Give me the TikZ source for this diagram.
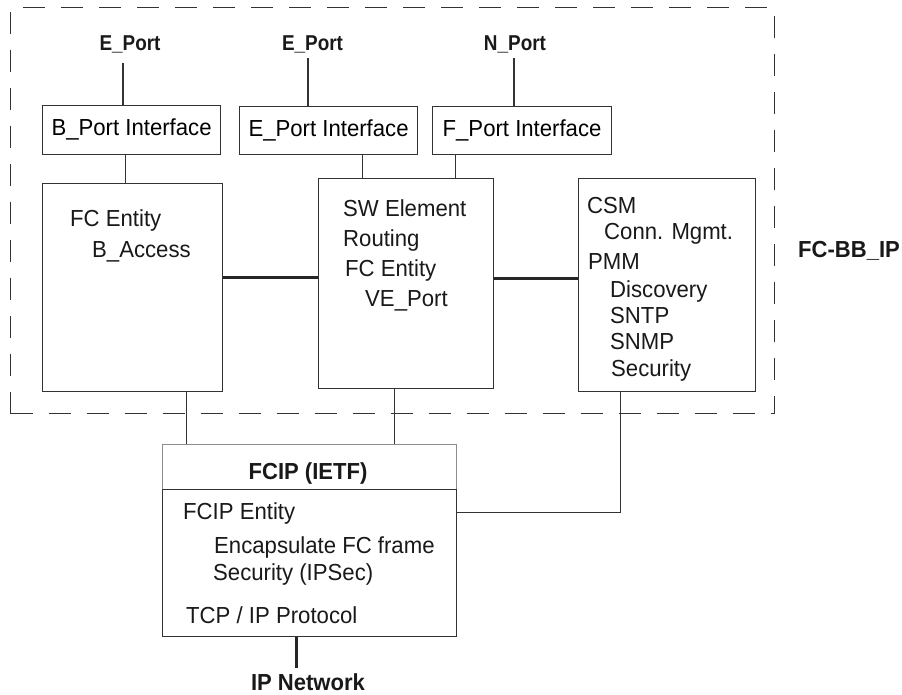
\documentclass[tikz,border=0pt]{standalone}
\usepackage{fontspec}
\setmainfont{Liberation Sans}
\newfontfamily\regfam[FakeStretch=0.955]{Liberation Sans}
\newfontfamily\portfam[FakeStretch=0.88]{Liberation Sans}
\newfontfamily\bigfam[FakeStretch=0.95]{Liberation Sans}
\begin{document}
\begin{tikzpicture}[x=1pt,y=-1pt,
  box/.style={draw=black!80,line width=1.1pt,inner sep=0pt,anchor=north west},
  pbox/.style={box,font=\regfam\fontsize{23.2}{27}\selectfont,text height=17pt,text depth=6pt},
  txt/.style={inner sep=0pt,anchor=base west,font=\regfam\fontsize{23.2}{27}\selectfont,text=black!90},
  lbl/.style={inner sep=0pt,anchor=base,font=\portfam\fontsize{21.5}{25}\selectfont\bfseries,text=black!90},
  big/.style={inner sep=0pt,font=\bigfam\fontsize{23.2}{27}\selectfont\bfseries,text=black!90},
  conn/.style={draw=black!80,line width=1.1pt},
  thickconn/.style={draw=black!85,line width=2.6pt}]
\useasboundingbox (0,0) rectangle (902,695);
\fill[white] (0,0) rectangle (902,695);

% dashed outer boundary
\node[box,minimum width=764pt,minimum height=406pt,dash pattern=on 22pt off 16pt] (fcbb) at (10,7) {};
\node[big,anchor=base west] (fcbblbl) at (798,258) {FC-BB\_IP};

% port labels
\node[lbl] (ep1) at (130,50.7) {E\_Port};
\node[lbl] (ep2) at (312.5,50.7) {E\_Port};
\node[lbl] (np) at (515,50.7) {N\_Port};
\coordinate (ep1b) at (123,63);
\coordinate (ep2b) at (308,58);
\coordinate (npb) at (514,58);

% interface boxes
\node[pbox,minimum width=178pt,minimum height=49pt] (bpi) at (42,105) {B\_Port Interface};
\node[pbox,minimum width=178pt,minimum height=48pt] (epi) at (239,106) {E\_Port Interface};
\node[pbox,minimum width=179pt,minimum height=48pt] (fpi) at (432,106) {F\_Port Interface};

% main boxes
\node[box,minimum width=180pt,minimum height=208pt] (fce) at (42,183) {};
\node[box,minimum width=175pt,minimum height=210pt] (sw) at (318,178) {};
\node[box,minimum width=177pt,minimum height=213pt] (csm) at (578,178) {};

\node[txt] (t1) at (70,226.5) {FC Entity};
\node[txt] (t2) at (92,258) {B\_Access};

\node[txt] (s1) at (343,217) {SW Element};
\node[txt] (s2) at (343,246.5) {Routing};
\node[txt] (s3) at (345,276) {FC Entity};
\node[txt] (s4) at (365,306) {VE\_Port};

\node[txt] (c1) at (587,214) {CSM};
\node[txt] (c2) at (604,240) {Conn. Mgmt.};
\node[txt] (c3) at (588,269) {PMM};
\node[txt] (c4) at (610,297) {Discovery};
\node[txt] (c5) at (610,323) {SNTP};
\node[txt] (c6) at (610,349) {SNMP};
\node[txt] (c7) at (611,376) {Security};

% FCIP box
\node[box,draw=black!45,minimum width=294pt,minimum height=45pt] (fciphead) at (162,444) {};
\node[box,minimum width=294pt,minimum height=147pt] (fcipbody) at (162,489) {};
\node[big,anchor=base] (fciplbl) at (308,479) {FCIP (IETF)};
\node[txt] (f1) at (183,519) {FCIP Entity};
\node[txt] (f2) at (214,553) {Encapsulate FC frame};
\node[txt] (f3) at (213,580) {Security (IPSec)};
\node[txt] (f4) at (186,623) {TCP / IP Protocol};

\node[big,anchor=base,inner sep=5pt] (ipn) at (308,690) {IP Network};

% connectors
\draw[conn] (ep1b) -- (ep1b |- bpi.north);
\draw[conn] (ep2b) -- (ep2b |- epi.north);
\draw[conn] (npb) -- (npb |- fpi.north);
\draw[conn] ([xshift=-6pt]bpi.south) -- ([xshift=-6pt]bpi.south |- fce.north);
\draw[conn] ([xshift=34pt]epi.south) -- ([xshift=34pt]epi.south |- sw.north);
\draw[conn] ([xshift=-66.5pt]fpi.south) -- ([xshift=-66.5pt]fpi.south |- sw.north);

\draw[thickconn] ([yshift=10pt]fce.east) -- ([yshift=10pt]fce.east -| sw.west);
\draw[thickconn] ([yshift=5pt]sw.east) -- ([yshift=5pt]sw.east -| csm.west);

\draw[conn] ([xshift=54pt]fce.south) -- ([xshift=54pt]fce.south |- fciphead.north);
\draw[conn] ([xshift=-11.5pt]sw.south) -- ([xshift=-11.5pt]sw.south |- fciphead.north);
\draw[conn] ([xshift=-46.5pt]csm.south) |- ([yshift=50.5pt]fcipbody.east);

\draw[thickconn] ([xshift=-13pt]fcipbody.south) -- ([xshift=-13pt]fcipbody.south |- ipn.north);
\end{tikzpicture}
\end{document}
